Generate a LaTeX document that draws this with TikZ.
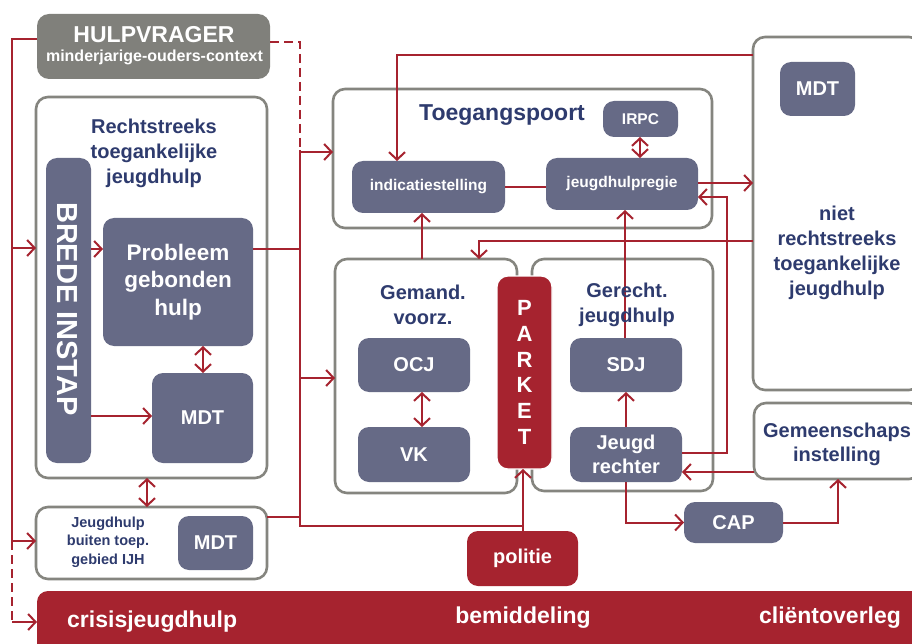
\documentclass[tikz,border=0pt]{standalone}
\usepackage{fontspec}
\setmainfont{Liberation Sans}
\usetikzlibrary{arrows.meta}
\definecolor{jred}{HTML}{A6232F}
\definecolor{jslate}{HTML}{666A86}
\definecolor{jnavy}{HTML}{2E3B6E}
\definecolor{jgray}{HTML}{85857F}
\definecolor{jgrayfill}{HTML}{80807B}
\begin{document}
\begin{tikzpicture}[x=1pt,y=-1pt,
  font=\bfseries,
  >={Straight Barb[length=7.5pt,width=16pt]},
  rl/.style={draw=jred,line width=2pt},
  dashline/.style={dash pattern=on 9pt off 5pt},
  frame/.style={draw=jgray,line width=2.6pt,rounded corners=12pt,fill=white,inner sep=0pt,outer sep=0pt},
  greybox/.style={fill=jgrayfill,rounded corners=12pt,inner sep=0pt,outer sep=0pt},
  slate/.style={fill=jslate,rounded corners=11pt,inner sep=0pt,outer sep=0pt,text=white,align=center},
  redbox/.style={fill=jred,rounded corners=11pt,inner sep=0pt,outer sep=0pt,text=white,align=center},
  ttl/.style={text=jnavy,align=center,inner sep=0pt},
  wtxt/.style={text=white,align=center,inner sep=0pt},
  big/.style={font=\bfseries\fontsize{20}{25}\selectfont},
  small/.style={font=\bfseries\fontsize{15.5}{18}\selectfont},
]
\useasboundingbox (0,0) rectangle (912,644);
\clip (0,0) rectangle (912,644);
\fill[white] (0,0) rectangle (912,644);

% ---------- outer frames ----------
\node[greybox,minimum width=233,minimum height=65] (hulp) at (153.5,46.5) {};
\node[frame,minimum width=231,minimum height=381] (rtj) at (151.5,287.5) {};
\node[frame,minimum width=231,minimum height=72] (jbt) at (151.5,543) {};
\node[frame,minimum width=379,minimum height=139] (tp) at (522.5,158.5) {};
\node[frame,minimum width=168,minimum height=353] (niet) at (837,213.5) {};
\node[frame,minimum width=167,minimum height=76] (gem) at (837.5,441) {};
\node[frame,minimum width=182,minimum height=234] (gv) at (426,376) {};
\node[frame,minimum width=181,minimum height=232] (gj) at (622.5,375) {};

% ---------- inner boxes ----------
\node[slate,minimum width=45,minimum height=305] (brede) at (68.5,310.5) {};
\node[slate,minimum width=150,minimum height=128,font=\bfseries\fontsize{22.5}{27.5}\selectfont] (prob) at (178,282) {Probleem\\gebonden\\hulp};
\node[slate,minimum width=101,minimum height=90,big] (mdtA) at (202.5,418) {MDT};
\node[slate,minimum width=75,minimum height=54,big] (mdtB) at (215.5,543) {MDT};
\node[slate,minimum width=75,minimum height=36,small] (irpc) at (640.5,119) {IRPC};
\node[slate,minimum width=153,minimum height=52,small] (ind) at (428.5,187) {indicatiestelling};
\node[slate,minimum width=152,minimum height=52,small] (jhr) at (622,184) {jeugdhulpregie};
\node[slate,minimum width=75,minimum height=54,big] (mdtC) at (817.5,89) {MDT};
\node[slate,minimum width=112,minimum height=54,big] (ocj) at (414,365) {OCJ};
\node[slate,minimum width=112,minimum height=55,big] (vk) at (414,454.5) {VK};
\node[slate,minimum width=112,minimum height=54,big] (sdj) at (626,365) {SDJ};
\node[slate,minimum width=112,minimum height=55,font=\bfseries\fontsize{20}{24}\selectfont] (jr) at (626,454.5) {Jeugd\\rechter};
\node[slate,minimum width=99,minimum height=41,big] (cap) at (733.5,522.5) {CAP};
\node[redbox,minimum width=111,minimum height=55,big] (pol) at (522.5,558.5) {politie};
\node[redbox,minimum width=895,minimum height=89] (crisis) at (484.5,635.5) {};

% ---------- connectors ----------
% left trunk from the help seeker
\draw[rl,->] (hulp.west |- 0,39) -| (12,541) -- (jbt.west |- 0,541);
\draw[rl,->] (12,248) -- (rtj.west |- 0,248);
\draw[rl,dashline] (12,541) -- (12,622);
\draw[rl,->] (12,622) -- (crisis.west |- 0,622);
% dashed route to the central trunk
\draw[rl,dashline] (hulp.east |- 0,42) -| (300,150);
\draw[rl] (300,150) -- (300,526) -- (523,526);
\draw[rl,->] (300,152) -- (tp.west |- 0,152);
\draw[rl,->] (300,378) -- (gv.west |- 0,378);
\draw[rl] (prob.east |- 0,249) -- (300,249);
\draw[rl] (jbt.east |- 0,517) -- (300,517);
% inside the directly accessible care
\draw[rl,->] (brede.east |- 0,249) -- (prob.west |- 0,249);
\draw[rl,->] (brede.east |- 0,416) -- (mdtA.west |- 0,416);
\draw[rl,<->] (mdtA.north -| 203,0) -- (prob.south -| 203,0);
\draw[rl,<->] (rtj.south -| 147,0) -- (jbt.north -| 147,0);
% access gate
\draw[rl,->] (niet.west |- 0,55) -- (397,55) -- (ind.north -| 397,0);
\draw[rl] (ind.east |- 0,187) -- (jhr.west |- 0,187);
\draw[rl,<->] (irpc.south -| 640,0) -- (jhr.north -| 640,0);
\draw[rl,->] (jhr.east |- 0,183) -- (niet.west |- 0,183);
\draw[rl,->] (jr.east |- 0,453) -- (727,453) -- (727,197) -- (jhr.east |- 0,197);
\draw[rl,->] (niet.west |- 0,241) -- (479,241) -- (gv.north -| 479,0);
\draw[rl,->] (gv.north -| 422,0) -- (ind.south -| 422,0);
\draw[rl,<->] (ocj.south -| 422,0) -- (vk.north -| 422,0);
\draw[rl,->] (sdj.north -| 625,0) -- (jhr.south -| 625,0);
\draw[rl,->] (jr.north) -- (sdj.south);
\draw[rl,->] (jr.south) |- (cap.west);
\draw[rl,->] (cap.east) -| (gem.south -| 838,0);
\draw[rl,->] (gem.west |- 0,472) -- (jr.east |- 0,472);

% ---------- public prosecutor ----------
\node[redbox,draw=white,line width=1.2pt,minimum width=55,minimum height=193,font=\bfseries\fontsize{22}{25.8}\selectfont] (parket) at (524.5,372.5) {P\\A\\R\\K\\E\\T};
\draw[rl,->] (pol.north -| 523,0) -- (parket.south -| 523,0);

% ---------- labels ----------
\node[wtxt,font=\bfseries\fontsize{23}{23}\selectfont] (hulpA) at (154,35) {HULPVRAGER};
\node[wtxt,font=\bfseries\fontsize{16}{18}\selectfont] (hulpB) at (154.5,57) {minderjarige-ouders-context};
\node[ttl,big] (rtjlbl) at (154,153) {Rechtstreeks\\toegankelijke\\jeugdhulp};
\node[wtxt,rotate=-90,font=\bfseries\fontsize{29}{29}\selectfont] (bredelbl) at (67.5,309) {BREDE INSTAP};
\node[ttl,font=\bfseries\fontsize{14.5}{18.5}\selectfont] (jbtlbl) at (108,542) {Jeugdhulp\\buiten toep.\\gebied IJH};
\node[ttl,font=\bfseries\fontsize{23}{23}\selectfont] (tplbl) at (502,115) {Toegangspoort};
\node[ttl,big] (nietlbl) at (837,252.5) {niet\\rechtstreeks\\toegankelijke\\jeugdhulp};
\node[ttl,font=\bfseries\fontsize{20}{24}\selectfont] (gemlbl) at (837,444) {Gemeenschaps\\instelling};
\node[ttl,big] (gvlbl) at (423,304.5) {Gemand.\\voorz.};
\node[ttl,big] (gjlbl) at (627,304.5) {Gerecht.\\jeugdhulp};
\node[wtxt,anchor=base west,font=\bfseries\fontsize{23}{23}\selectfont] (crisislbl) at (67,627) {crisisjeugdhulp};
\node[wtxt,anchor=base,font=\bfseries\fontsize{23}{23}\selectfont] (bemlbl) at (523,623) {bemiddeling};
\node[wtxt,anchor=base,font=\bfseries\fontsize{23}{23}\selectfont] (clilbl) at (830,623) {cliëntoverleg};
\end{tikzpicture}
\end{document}
